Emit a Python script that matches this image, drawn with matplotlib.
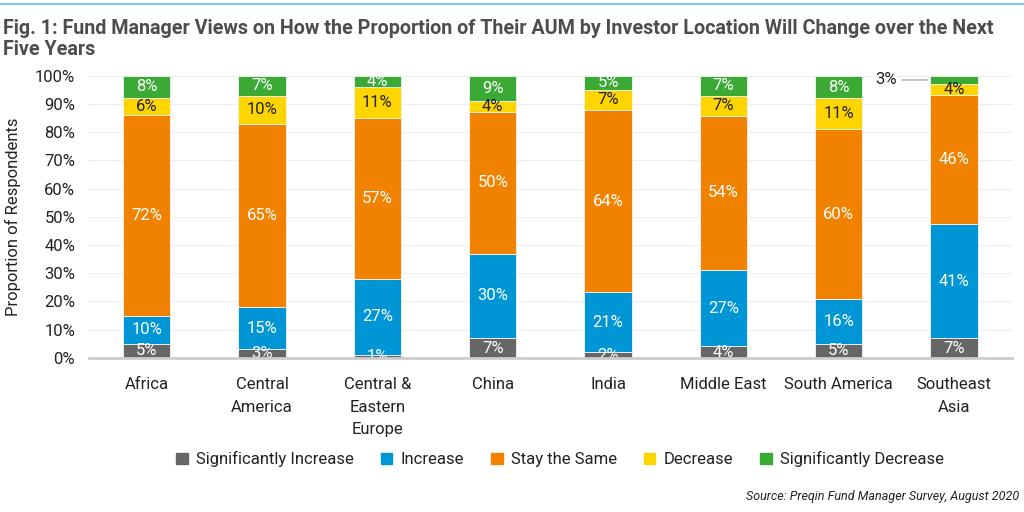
import numpy as np
import matplotlib.pyplot as plt
from matplotlib.lines import Line2D

plt.rcParams['font.family'] = ['Roboto', 'DejaVu Sans']

categories = ['Africa', 'Central\nAmerica', 'Central &\nEastern\nEurope', 'China',
              'India', 'Middle East', 'South America', 'Southeast\nAsia']
series = ['Significantly Increase', 'Increase', 'Stay the Same', 'Decrease',
          'Significantly Decrease']
sig_increase = [5, 3, 1, 7, 2, 4, 5, 7]
increase = [10, 15, 27, 30, 21, 27, 16, 41]
stay_same = [72, 65, 57, 50, 64, 54, 60, 46]
decrease = [6, 10, 11, 4, 7, 7, 11, 4]
sig_decrease = [8, 7, 4, 9, 5, 7, 8, 3]

colors = ['#666666', '#0096d6', '#f08200', '#ffd500', '#3aaa35']
label_colors = ['white', 'white', 'white', '#222222', 'white']

data = np.array([sig_increase, increase, stay_same, decrease, sig_decrease], dtype=float)
share = data / data.sum(axis=0) * 100

fig = plt.figure(figsize=(10.24, 5.12), dpi=100)
ax = fig.add_axes([0.087, 0.301, 0.901, 0.551])

x = np.arange(len(categories))
bottom = np.zeros(len(categories))
for i, name in enumerate(series):
    ax.bar(x, share[i], 0.41, bottom=bottom, color=colors[i], edgecolor='#f4f4f4',
           linewidth=0.6, label=name, zorder=3)
    for j in range(len(categories)):
        val = int(data[i, j])
        yc = bottom[j] + share[i, j] / 2
        if i == 4 and j == 7:
            # small segment: label outside with leader line
            ax.annotate(f'{val}%', xy=(x[j] - 0.205, yc), xytext=(x[j] - 0.5, yc),
                        ha='right', va='center', fontsize=12, color='#222222',
                        arrowprops=dict(arrowstyle='-', color='#999999', lw=0.8))
            continue
        ax.text(x[j], yc, f'{val}%', ha='center', va='center', fontsize=12,
                color=label_colors[i], zorder=4)
    bottom += share[i]

ax.set_xlim(-0.5, len(categories) - 0.5)
ax.set_ylim(0, 100)
ax.set_yticks(np.arange(0, 101, 10))
ax.set_yticklabels([f'{v}%' for v in range(0, 101, 10)], fontsize=12, color='#222222')
ax.set_xticks(x)
ax.set_xticklabels(categories, fontsize=12, color='#222222', linespacing=1.6)
ax.tick_params(axis='both', length=0)
ax.tick_params(axis='x', pad=14)
ax.tick_params(axis='y', pad=10)
ax.grid(axis='y', color='#eeeeee', lw=0.8, zorder=0)
for s in ['top', 'right', 'left']:
    ax.spines[s].set_visible(False)
ax.spines['bottom'].set_color('#cccccc')
ax.spines['bottom'].set_linewidth(2)
ax.spines['bottom'].set_zorder(5)
ax.set_ylabel('Proportion of Respondents', fontsize=12, color='#222222', labelpad=10)

fig.text(0.003, 0.962, 'Fig. 1: Fund Manager Views on How the Proportion of Their AUM by Investor '
         'Location Will Change over the Next\nFive Years', fontsize=14.2, fontweight='bold',
         color='#4d4d4f', va='top', ha='left', linespacing=1.1)
fig.add_artist(Line2D([0, 1], [0.992, 0.992], color='#7cc4ea', lw=1.5))

handles = [plt.Rectangle((0, 0), 1, 1, color=c) for c in colors]
fig.legend(handles, series, loc='center', bbox_to_anchor=(0.547, 0.103), ncol=5,
           frameon=False, fontsize=12, handlelength=0.7, handleheight=0.7,
           handletextpad=0.5, columnspacing=1.6, labelcolor='#222222')

fig.text(0.995, 0.03, 'Source: Preqin Fund Manager Survey, August 2020', fontsize=9,
         style='italic', ha='right', va='center', color='#222222')

fig.savefig('out.png', dpi=100)
